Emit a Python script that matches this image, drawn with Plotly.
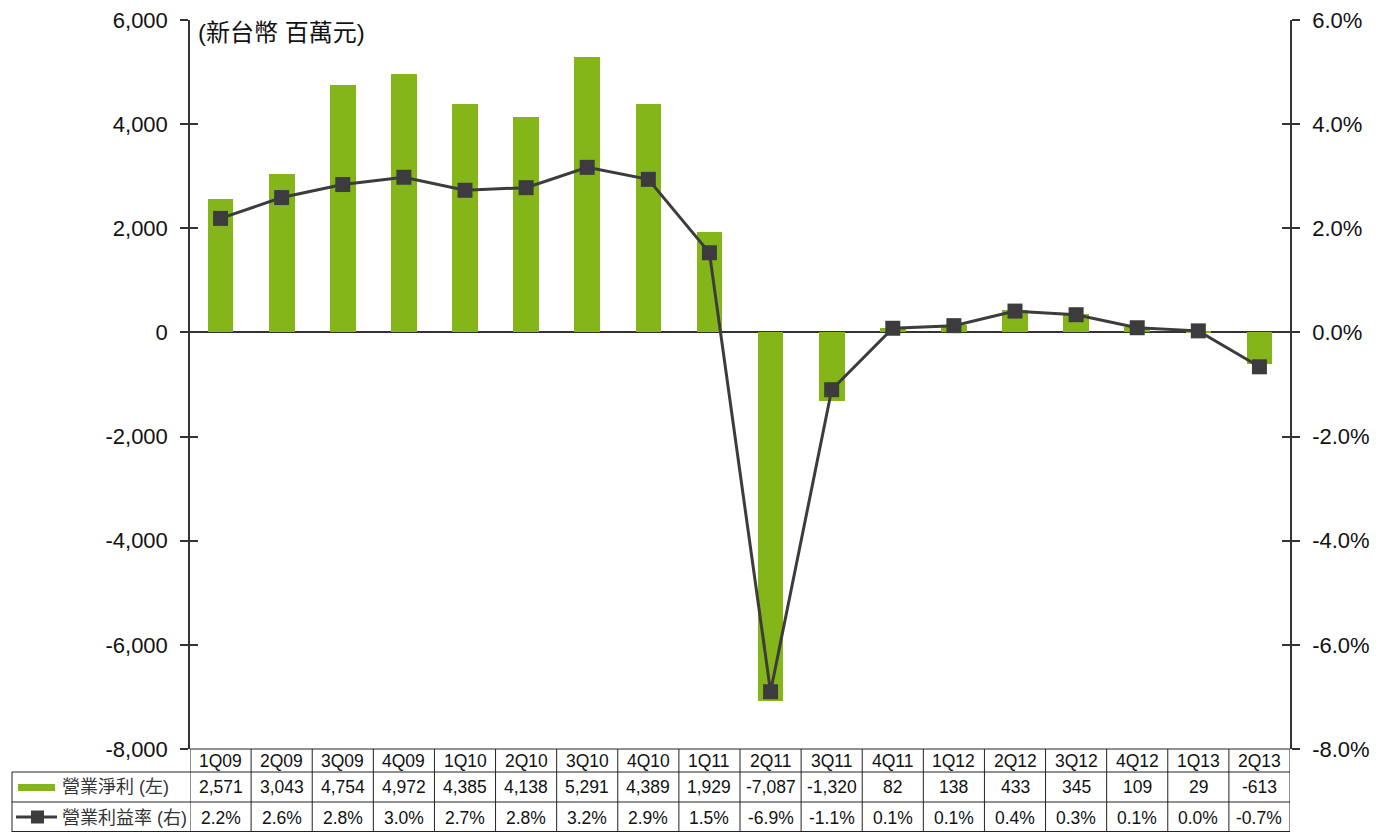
import plotly.graph_objects as go

categories = ["1Q09", "2Q09", "3Q09", "4Q09", "1Q10", "2Q10", "3Q10", "4Q10", "1Q11",
              "2Q11", "3Q11", "4Q11", "1Q12", "2Q12", "3Q12", "4Q12", "1Q13", "2Q13"]
net_profit = [2571, 3043, 4754, 4972, 4385, 4138, 5291, 4389, 1929,
              -7087, -1320, 82, 138, 433, 345, 109, 29, -613]
margin_pct = [2.19, 2.59, 2.84, 2.98, 2.73, 2.78, 3.17, 2.94, 1.53,
              -6.90, -1.10, 0.08, 0.13, 0.41, 0.34, 0.09, 0.03, -0.66]
left_ticks = [6000, 4000, 2000, 0, -2000, -4000, -6000, -8000]
left_tick_text = ["6,000", "4,000", "2,000", "0", "-2,000", "-4,000", "-6,000", "-8,000"]
right_ticks = [6, 4, 2, 0, -2, -4, -6, -8]
right_tick_text = ["6.0%", "4.0%", "2.0%", "0.0%", "-2.0%", "-4.0%", "-6.0%", "-8.0%"]
series_names = ["營業淨利 (左)", "營業利益率 (右)"]
unit_label = "(新台幣 百萬元)"

# page has an 8px body margin; figure sized to fit the 1382x832 window
OFF = 8
W, H = 1382 - OFF, 832 - OFF
PLOT_L, PLOT_R, PLOT_T, PLOT_B = 190, 1290, 20, 749   # page pixels
L = PLOT_L - OFF
T = PLOT_T - OFF
R = W - (PLOT_R - OFF)
B = H - (PLOT_B - OFF)
PH = PLOT_B - PLOT_T
PW = PLOT_R - PLOT_L

FONT = "Liberation Sans, Arial, Noto Sans CJK TC, sans-serif"
GREEN = "#84b61a"
DARK = "#3c3c3e"
AX = "#333333"

def py(ypix):
    return (PLOT_B - ypix) / PH

def px(xpix):
    return (xpix - PLOT_L) / PW

fig = go.Figure()
xs = list(range(len(categories)))
fig.add_trace(go.Bar(x=xs, y=net_profit, marker=dict(color=GREEN, line=dict(width=0)),
                     width=0.42, name=series_names[0], yaxis="y"))
fig.add_trace(go.Scatter(x=xs, y=margin_pct, mode="lines+markers", yaxis="y2",
                         name=series_names[1],
                         line=dict(color=DARK, width=3),
                         marker=dict(symbol="square", size=15, color=DARK)))
# helper traces for the inner half of the crossing tick marks
fig.add_trace(go.Scatter(x=[None], y=[None], yaxis="y3", showlegend=False, hoverinfo="skip"))
fig.add_trace(go.Scatter(x=[None], y=[None], yaxis="y4", showlegend=False, hoverinfo="skip"))

shapes = []
annotations = []
lc = dict(color="#222222", width=1)

# table horizontal lines
shapes.append(dict(type="line", xref="paper", yref="paper", x0=0, x1=1, y0=0, y1=0, line=lc))
for yp in [772, 802, 831.5]:
    shapes.append(dict(type="line", xref="paper", yref="paper", x0=px(12), x1=1,
                       y0=py(yp), y1=py(yp), line=lc))
# vertical lines
for i in range(len(categories) + 1):
    shapes.append(dict(type="line", xref="x", yref="paper", x0=i - 0.5, x1=i - 0.5,
                       y0=0, y1=py(832), line=lc))
shapes.append(dict(type="line", xref="paper", yref="paper", x0=px(12), x1=px(12),
                   y0=py(772), y1=py(832), line=lc))

# legend symbols
shapes.append(dict(type="rect", xref="paper", yref="paper", x0=px(18), x1=px(55),
                   y0=py(791), y1=py(784), fillcolor=GREEN, line=dict(width=0)))
shapes.append(dict(type="line", xref="paper", yref="paper", x0=px(16), x1=px(57),
                   y0=py(817), y1=py(817), line=dict(color=DARK, width=3)))
shapes.append(dict(type="rect", xref="paper", yref="paper", x0=px(31), x1=px(44),
                   y0=py(823.5), y1=py(810.5), fillcolor=DARK, line=dict(width=0)))

tf = dict(family=FONT, size=17.5, color="#111111")
for i, c in enumerate(categories):
    annotations.append(dict(x=i, y=py(761), xref="x", yref="paper", text=c,
                            showarrow=False, font=tf, xanchor="center", yanchor="middle"))
    annotations.append(dict(x=i, y=py(787), xref="x", yref="paper", text=f"{net_profit[i]:,}",
                            showarrow=False, font=tf, xanchor="center", yanchor="middle"))
    annotations.append(dict(x=i, y=py(818), xref="x", yref="paper", text=f"{margin_pct[i]:.1f}%",
                            showarrow=False, font=tf, xanchor="center", yanchor="middle"))
lf = dict(family=FONT, size=18, color="#333333")
annotations.append(dict(x=px(60), y=py(787), xref="paper", yref="paper", text=series_names[0],
                        showarrow=False, font=lf, xanchor="left", yanchor="middle"))
annotations.append(dict(x=px(60), y=py(818), xref="paper", yref="paper", text=series_names[1],
                        showarrow=False, font=lf, xanchor="left", yanchor="middle"))
annotations.append(dict(x=px(196), y=py(33), xref="paper", yref="paper", text=unit_label,
                        showarrow=False, font=dict(family=FONT, size=24, color="#111111"),
                        xanchor="left", yanchor="middle"))

axfont = dict(family=FONT, size=22, color="#111111")
fig.update_layout(
    width=W, height=H,
    margin=dict(l=L, r=R, t=T, b=B, pad=0, autoexpand=False),
    paper_bgcolor="white", plot_bgcolor="white",
    showlegend=False,
    bargap=0,
    xaxis=dict(range=[-0.5, len(categories) - 0.5], showticklabels=False, ticks="",
               showgrid=False, zeroline=False, showline=False),
    yaxis=dict(range=[-8000, 6000], tickvals=left_ticks, ticktext=left_tick_text,
               ticks="outside", ticklen=8, tickwidth=1.5, tickcolor=AX,
               showline=True, linecolor=AX, linewidth=1.5,
               showgrid=False, zeroline=True, zerolinecolor=AX, zerolinewidth=2,
               tickfont=axfont, ticklabelstandoff=8, ticklabeloverflow="allow"),
    yaxis2=dict(range=[-8, 6], tickvals=right_ticks, ticktext=right_tick_text,
                overlaying="y", side="right", anchor="x",
                ticks="outside", ticklen=8, tickwidth=1.5, tickcolor=AX,
                showline=True, linecolor=AX, linewidth=1.5,
                showgrid=False, zeroline=False, tickfont=axfont, ticklabelstandoff=8,
                ticklabeloverflow="allow"),
    yaxis3=dict(range=[-8000, 6000], tickvals=left_ticks, overlaying="y", side="left", anchor="x",
                ticks="inside", ticklen=8, tickwidth=1.5, tickcolor=AX,
                showticklabels=False, showline=False, showgrid=False, zeroline=False),
    yaxis4=dict(range=[-8, 6], tickvals=right_ticks, overlaying="y", side="right", anchor="x",
                ticks="inside", ticklen=8, tickwidth=1.5, tickcolor=AX,
                showticklabels=False, showline=False, showgrid=False, zeroline=False),
    shapes=shapes,
    annotations=annotations,
)

fig.write_html("out.html")
